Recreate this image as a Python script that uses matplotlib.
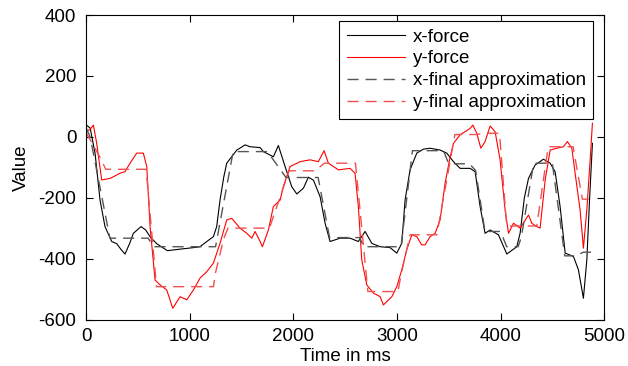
import numpy as np
import matplotlib
matplotlib.use("Agg")
import matplotlib.pyplot as plt

plt.rcParams["font.family"] = ["Liberation Sans", "DejaVu Sans"]
plt.rcParams["axes.unicode_minus"] = False

x_force_t = [0, 40, 87, 135, 183, 248, 296, 340, 376, 420, 457, 531, 575, 618, 682, 785,
             907, 1036, 1100, 1165, 1229, 1261, 1293, 1330, 1358, 1455, 1535, 1583, 1680,
             1711, 1808, 1856, 1921, 1985, 2034, 2098, 2146, 2195, 2259, 2307, 2355, 2452,
             2548, 2628, 2693, 2758, 2838, 2934, 2999, 3047, 3079, 3127, 3192, 3256, 3320,
             3417, 3481, 3546, 3610, 3707, 3755, 3803, 3851, 3900, 3980, 4061, 4157, 4189,
             4230, 4270, 4334, 4414, 4479, 4527, 4575, 4624, 4704, 4752, 4800, 4833, 4860, 4887]
x_force_v = [40, 29, -53, -207, -294, -343, -350, -370, -384, -350, -316, -294, -305, -327,
             -350, -373, -368, -363, -360, -343, -327, -294, -207, -130, -86, -43, -26, -32,
             -35, -48, -65, -28, -97, -163, -187, -168, -132, -142, -196, -283, -343, -332,
             -332, -343, -310, -349, -360, -363, -381, -349, -207, -108, -53, -40, -37, -43,
             -53, -81, -103, -103, -114, -228, -316, -305, -321, -384, -360, -316, -200, -136,
             -92, -73, -86, -114, -228, -381, -392, -436, -529, -403, -200, -21]

y_force_t = [0, 40, 71, 103, 151, 232, 328, 376, 425, 489, 553, 586, 618, 666, 714, 779, 837,
             907, 972, 1036, 1100, 1165, 1229, 1293, 1358, 1406, 1486, 1551, 1600, 1631, 1680,
             1702, 1760, 1808, 1873, 1904, 1969, 2066, 2162, 2242, 2297, 2339, 2436, 2548,
             2596, 2628, 2661, 2709, 2773, 2838, 2870, 2902, 2951, 2999, 3047, 3095, 3144,
             3192, 3240, 3272, 3320, 3369, 3417, 3465, 3514, 3546, 3610, 3707, 3733, 3771,
             3810, 3851, 3900, 3948, 3996, 4044, 4077, 4125, 4189, 4270, 4302, 4350, 4382,
             4431, 4479, 4543, 4607, 4646, 4688, 4720, 4768, 4800, 4833, 4865, 4887]
y_force_v = [17, 25, 39, -21, -141, -136, -119, -114, -86, -53, -53, -97, -294, -469, -485,
             -502, -562, -524, -534, -502, -463, -442, -414, -349, -272, -267, -299, -316,
             -332, -310, -343, -360, -305, -228, -207, -163, -97, -81, -75, -81, -45, -86,
             -108, -103, -119, -228, -403, -485, -512, -524, -551, -540, -524, -491, -436,
             -370, -321, -327, -354, -354, -327, -316, -272, -152, -65, -21, 7, 28, 39, 12,
             -37, -15, 36, 17, -75, -239, -316, -283, -299, -256, -283, -294, -299, -141,
             -43, -37, -32, -15, -37, -119, -239, -365, -239, -75, 45]

# final piecewise approximations
x_appr_t = [0, 40, 230, 600, 650, 1230, 1250, 1420, 1750, 1890, 1930, 2210, 2240, 2350,
            2640, 2680, 3040, 3150, 3450, 3500, 3700, 3760, 3850, 4000, 4060, 4170, 4200,
            4320, 4500, 4620, 4720, 4800, 4880]
x_appr_v = [30, 0, -332, -332, -360, -360, -360, -48, -48, -114, -133, -133, -133, -330,
            -330, -360, -360, -45, -45, -88, -88, -110, -310, -310, -360, -360, -330,
            -86, -86, -390, -390, -378, -378]

y_appr_t = [0, 140, 190, 580, 680, 1230, 1245, 1330, 1370, 1770, 1960, 2210, 2300, 2565,
            2600, 2720, 3010, 3040, 3127, 3385, 3560, 3760, 3860, 3990, 4060, 4350, 4460,
            4700, 4790, 4880]
y_appr_v = [15, -70, -106, -106, -491, -491, -452, -332, -299, -299, -111, -111, -86, -86,
            -86, -507, -507, -452, -321, -321, 8, 8, 12, 12, -292, -292, -32, -32, -204, -204]

fig = plt.figure(figsize=(6.28, 3.66), dpi=100)
ax = fig.add_axes([0.137, 0.126, 0.825, 0.833])

ax.plot(x_force_t, x_force_v, color="black", lw=0.8, label="x-force")
ax.plot(y_force_t, y_force_v, color="#ff0000", lw=0.8, label="y-force")
ax.plot(x_appr_t, x_appr_v, color="#555555", lw=1.0, dashes=(8, 5),
        label="x-final approximation")
ax.plot(y_appr_t, y_appr_v, color="#f05050", lw=1.0, dashes=(8, 5),
        label="y-final approximation")

ax.set_xlim(0, 5000)
ax.set_ylim(-600, 400)
ax.set_xticks([0, 1000, 2000, 3000, 4000, 5000])
ax.set_yticks([-600, -400, -200, 0, 200, 400])
ax.tick_params(direction="in", length=5, top=True, right=True, labelsize=13.5, width=0.8)
ax.tick_params(axis="x", pad=6)
ax.tick_params(axis="y", pad=7)
for s in ax.spines.values():
    s.set_linewidth(0.8)

ax.set_xlabel("Time in ms", fontsize=13.5, labelpad=2)
ax.set_ylabel("Value", fontsize=13.5, labelpad=6)

leg = ax.legend(loc="upper right", bbox_to_anchor=(1 - 11 / 518, 1 - 6 / 305),
                fontsize=13.5, handlelength=3.1, fancybox=False, framealpha=1,
                edgecolor="black", borderaxespad=0, labelspacing=0.25,
                handletextpad=0.4, borderpad=0.4)
leg.get_frame().set_linewidth(0.8)

fig.savefig("out.png", dpi=100)
